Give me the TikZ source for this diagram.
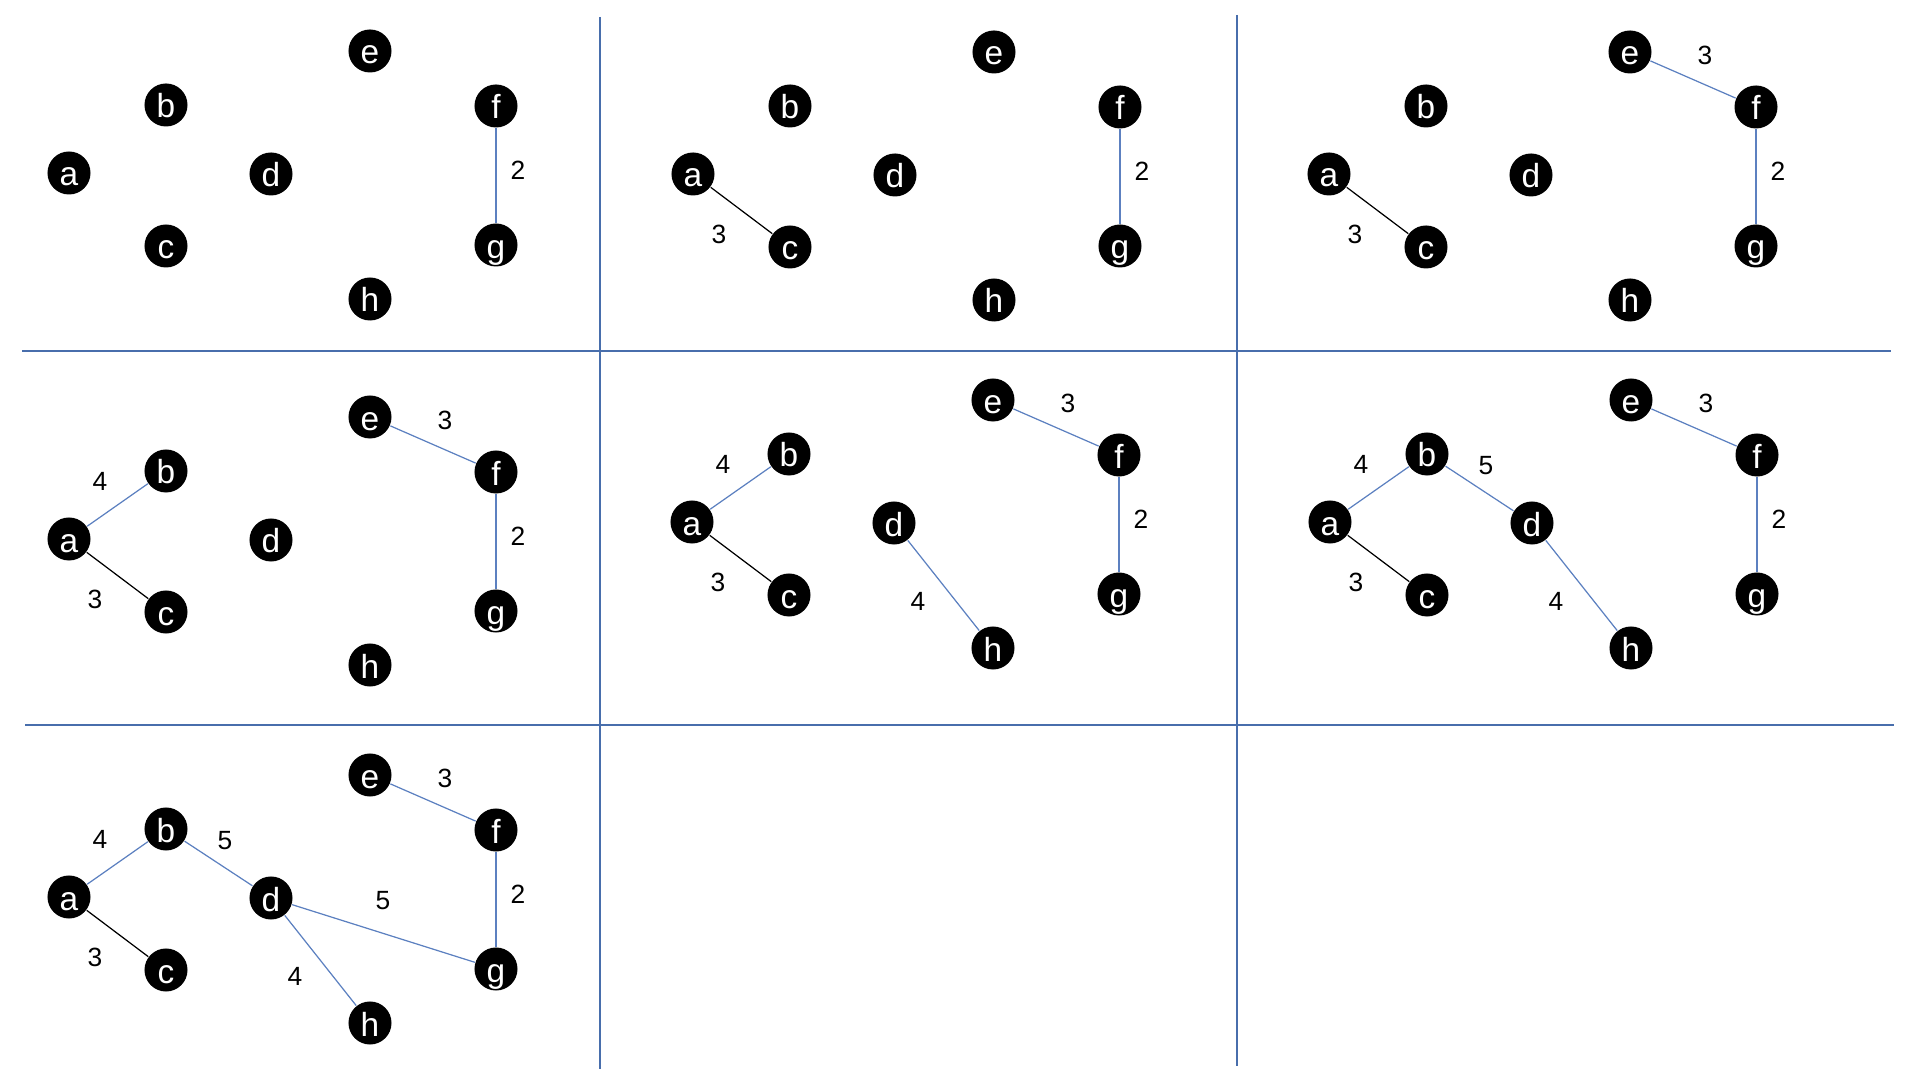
\documentclass[tikz,border=0pt]{standalone}
\usepackage{fontspec}
\setmainfont{Liberation Sans}
\usetikzlibrary{positioning}

\definecolor{gridblue}{RGB}{72,110,172}
\definecolor{lineblue}{RGB}{92,128,192}

\tikzset{
    vertex/.style={circle, fill=black, text=white, minimum size=0.43cm, inner sep=0pt,
        text height=7.4pt, text depth=0pt, font=\fontsize{9.5}{10}\selectfont},
    weight/.style={inner sep=0pt, font=\fontsize{7.5}{8}\selectfont},
    gridline/.style={draw=gridblue, line width=0.45pt},
}

\begin{document}
\begin{tikzpicture}[x=0.01cm, y=-0.01cm]
    \useasboundingbox (0,0) rectangle (1920,1080);

    % Frame of the seven steps
    \draw[gridline] (22,351) -- (1891,351);
    \draw[gridline] (25,725) -- (1894,725);
    \draw[gridline] (600,17) -- (600,1069);
    \draw[gridline] (1237,15) -- (1237,1066);

    % Steps: vertices, then the edges taken so far
    \foreach \p/\dx/\dy in {1/0/0, 2/624/1, 3/1260/1, 4/0/366, 5/623/349, 6/1261/349, 7/0/724} {
        \begin{scope}[shift={(\dx,\dy)}]
            \foreach \n/\x/\y in {a/69/173, b/166/105, c/166/246, d/271/174,
                                  e/370/51, f/496/106, g/496/245, h/370/299}
                \node[vertex] (p\p\n) at (\x,\y) {\n};

            \foreach \u/\v/\w/\lx/\ly/\col/\from in {f/g/2/518/170/lineblue/1,
                                                     a/c/3/95/233/black/2,
                                                     e/f/3/445/54/lineblue/3,
                                                     a/b/4/100/115/lineblue/4,
                                                     d/h/4/295/252/lineblue/5,
                                                     b/d/5/225/117/lineblue/6,
                                                     d/g/5/383/177/lineblue/7} {
                \ifnum\p<\from\relax\else
                    \draw[draw=\col, line width=0.35pt] (p\p\u) -- (p\p\v);
                    \node[weight] (w\p\u\v) at (\lx,\ly) {\w};
                \fi
            }
        \end{scope}
    }
\end{tikzpicture}
\end{document}
